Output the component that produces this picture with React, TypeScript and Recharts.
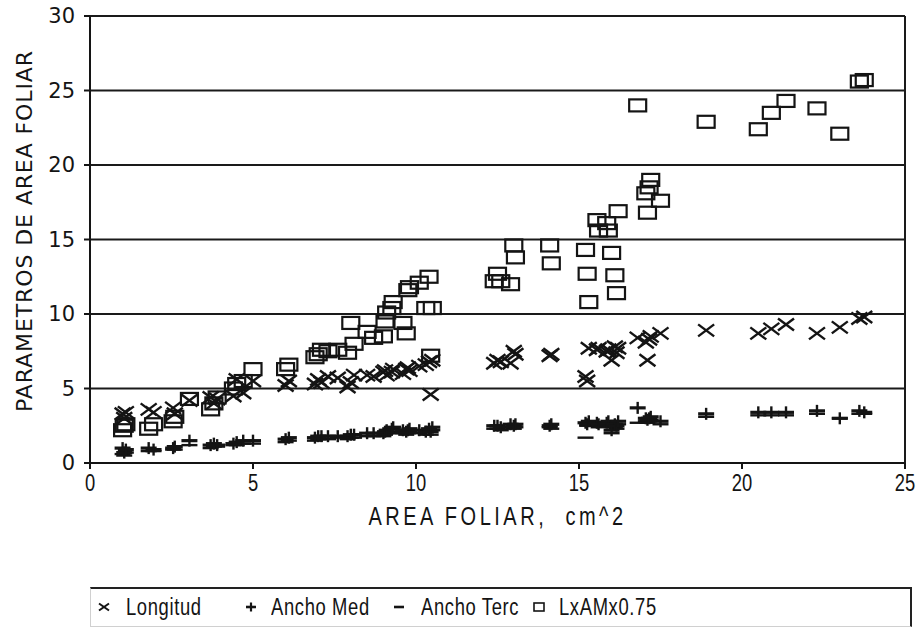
import React from "react";
import {
  ScatterChart,
  Scatter,
  XAxis,
  YAxis,
  CartesianGrid,
  ReferenceLine,
  Legend,
} from "recharts";

// Leaf area (x) shared by all series
const areaFoliar = [
  1.0, 1.05, 1.1, 1.8, 1.95, 2.55, 2.6, 3.05, 3.7, 3.8, 3.9, 4.4, 4.5, 4.7, 5.0,
  6.0, 6.1, 6.9, 7.0, 7.1, 7.3, 7.6, 7.9, 8.0, 8.1, 8.5, 8.7, 9.0, 9.05, 9.1,
  9.26, 9.3, 9.6, 9.7, 9.75, 9.8, 10.1, 10.3, 10.4, 10.45, 10.5, 12.4, 12.5,
  12.6, 12.9, 13.0, 13.05, 14.1, 14.15, 15.2, 15.25, 15.3, 15.55, 15.6, 15.85,
  15.9, 16.0, 16.1, 16.15, 16.2, 16.8, 17.05, 17.1, 17.15, 17.2, 17.5, 18.9,
  20.5, 20.9, 21.35, 22.3, 23.0, 23.6, 23.75,
];

const longitud = [
  3.3, 3.0, 3.4, 3.6, 3.4, 3.7, 3.3, 4.2, 4.4, 4.0, 4.3, 4.5, 5.6, 4.7, 5.5,
  5.2, 5.5, 5.3, 5.6, 5.4, 5.8, 5.7, 5.1, 5.4, 5.9, 5.9, 5.8, 6.1, 6.2, 5.9,
  6.1, 6.3, 6.0, 6.3, 6.4, 6.2, 6.5, 6.6, 6.8, 4.6, 6.9, 6.7, 6.9, 6.8, 6.7,
  7.5, 7.3, 7.2, 7.3, 5.8, 5.5, 7.7, 7.6, 7.7, 7.5, 7.6, 6.9, 7.8, 7.4, 7.7,
  8.4, 8.1, 6.9, 8.3, 8.5, 8.7, 8.9, 8.7, 9.0, 9.3, 8.7, 9.1, 9.7, 9.8,
];

const anchoMed = [
  1.0, 0.7, 0.9, 1.0, 0.9, 1.0, 1.1, 1.5, 1.2, 1.3, 1.2, 1.3, 1.4, 1.5, 1.5,
  1.6, 1.7, 1.7, 1.8, 1.8, 1.8, 1.8, 1.8, 1.9, 1.9, 2.0, 2.0, 2.0, 2.1, 2.2,
  2.3, 2.4, 2.2, 2.1, 2.2, 2.3, 2.2, 2.1, 2.3, 2.1, 2.4, 2.5, 2.5, 2.4, 2.6,
  2.5, 2.6, 2.5, 2.6, 2.7, 2.6, 2.8, 2.7, 2.6, 2.7, 2.8, 2.2, 2.6, 2.5, 2.8,
  3.7, 3.0, 2.9, 3.0, 3.1, 2.8, 3.3, 3.4, 3.4, 3.4, 3.5, 3.0, 3.5, 3.4,
];

const anchoTerc = [
  0.6, 0.5, 0.7, 0.8, 0.8, 0.9, 0.9, 1.2, 1.0, 1.1, 1.1, 1.2, 1.2, 1.3, 1.3,
  1.4, 1.5, 1.5, 1.6, 1.6, 1.6, 1.7, 1.6, 1.7, 1.7, 1.8, 1.8, 1.8, 1.9, 2.0,
  2.0, 2.1, 2.0, 1.9, 2.0, 2.1, 2.0, 1.9, 2.1, 1.9, 2.2, 2.3, 2.3, 2.2, 2.4,
  2.3, 2.4, 2.4, 2.3, 1.7, 2.5, 2.6, 2.5, 2.4, 2.5, 2.6, 2.0, 2.4, 2.3, 2.6,
  2.7, 2.8, 2.7, 2.8, 2.9, 2.6, 3.1, 3.2, 3.2, 3.2, 3.3, 3.0, 3.3, 3.3,
];

const lxam = [
  2.2, 2.5, 2.6, 2.3, 2.6, 2.8, 3.1, 4.3, 3.6, 4.0, 4.4, 5.0, 5.3, 5.5, 6.3,
  6.3, 6.6, 7.1, 7.3, 7.6, 7.5, 7.6, 7.4, 9.4, 8.0, 8.8, 8.4, 8.5, 9.5, 10.1,
  10.4, 10.8, 9.4, 8.7, 11.6, 11.8, 12.1, 10.4, 12.5, 7.2, 10.4, 12.2, 12.7,
  12.2, 12.0, 14.6, 13.8, 14.6, 13.4, 14.3, 12.7, 10.8, 16.3, 15.6, 16.1, 15.6,
  14.1, 12.6, 11.4, 16.9, 24.0, 18.1, 16.8, 18.5, 19.0, 17.6, 22.9, 22.4, 23.5,
  24.3, 23.8, 22.1, 25.6, 25.7,
];

const seriesNames = ["Longitud", "Ancho Med", "Ancho Terc", "LxAMx0.75"];
const xTicks = [0, 5, 10, 15, 20, 25];
const yTicks = [0, 5, 10, 15, 20, 25, 30];

const build = (ys: number[]) => areaFoliar.map((x, i) => ({ x, y: ys[i] }));

const INK = "#141414";
const SANS = "'Liberation Sans', Arial, sans-serif";
const WIDE = "'DejaVu Sans', Verdana, sans-serif";
const SQUEEZE = 0.8;

const XMark = (p: any) => {
  const { cx, cy } = p;
  if (cx == null || cy == null) return null;
  return (
    <g>
      <line x1={cx - 8} y1={cy - 6} x2={cx + 8} y2={cy + 6} stroke={INK} strokeWidth={2.4} />
      <line x1={cx - 8} y1={cy + 6} x2={cx + 8} y2={cy - 6} stroke={INK} strokeWidth={2.4} />
    </g>
  );
};

const PlusMark = (p: any) => {
  const { cx, cy } = p;
  if (cx == null || cy == null) return null;
  return (
    <g>
      <line x1={cx - 8} y1={cy} x2={cx + 8} y2={cy} stroke={INK} strokeWidth={3.2} />
      <line x1={cx} y1={cy - 6} x2={cx} y2={cy + 6} stroke={INK} strokeWidth={2.4} />
    </g>
  );
};

const DashMark = (p: any) => {
  const { cx, cy } = p;
  if (cx == null || cy == null) return null;
  return <line x1={cx - 8} y1={cy} x2={cx + 8} y2={cy} stroke={INK} strokeWidth={2.4} />;
};

const SquareMark = (p: any) => {
  const { cx, cy } = p;
  if (cx == null || cy == null) return null;
  return (
    <rect x={cx - 8.5} y={cy - 6} width={17} height={12} fill="none" stroke={INK} strokeWidth={2.2} />
  );
};

const LegendIcon = ({ kind }: { kind: number }) => {
  const c = 8;
  return (
    <svg width={16} height={16} style={{ display: "block" }}>
      {kind === 0 && (
        <g>
          <line x1={3} y1={4.5} x2={13} y2={11.5} stroke={INK} strokeWidth={2} />
          <line x1={3} y1={11.5} x2={13} y2={4.5} stroke={INK} strokeWidth={2} />
        </g>
      )}
      {kind === 1 && (
        <g>
          <line x1={3} y1={c} x2={13} y2={c} stroke={INK} strokeWidth={2.6} />
          <line x1={c} y1={3.5} x2={c} y2={12.5} stroke={INK} strokeWidth={2.2} />
        </g>
      )}
      {kind === 2 && <line x1={3} y1={c} x2={13} y2={c} stroke={INK} strokeWidth={2.6} />}
      {kind === 3 && <rect x={3} y={4} width={10} height={8} fill="none" stroke={INK} strokeWidth={1.6} />}
    </svg>
  );
};

const iconLeft = [5, 152, 300, 440];
const textLeft = [35, 180, 330, 468];

const LegendBox = () => (
  <div
    style={{
      position: "relative",
      width: 822,
      height: 40,
      boxSizing: "border-box",
      borderTop: "2px solid #222",
      borderRight: "2px solid #222",
      borderBottom: "1px solid #d0d0d0",
      borderLeft: "1px solid #d0d0d0",
      fontFamily: SANS,
      fontSize: 23,
      color: INK,
    }}
  >
    {seriesNames.map((n, i) => (
      <React.Fragment key={n}>
        <div style={{ position: "absolute", left: iconLeft[i], top: 10 }}>
          <LegendIcon kind={i} />
        </div>
        <div
          style={{
            position: "absolute",
            left: textLeft[i],
            top: 5,
            letterSpacing: 0.8,
            whiteSpace: "nowrap",
            transform: `scaleX(${SQUEEZE})`,
            transformOrigin: "0 0",
          }}
        >
          {n}
        </div>
      </React.Fragment>
    ))}
  </div>
);

const XTick = (props: any) => {
  const { x, y, payload } = props;
  return (
    <text
      transform={`translate(${x}, ${y + 19}) scale(${SQUEEZE}, 1)`}
      textAnchor="middle"
      fontFamily={SANS}
      fontSize={23}
      fill={INK}
    >
      {payload.value}
    </text>
  );
};

const YLabel = () => {
  const cy = 231;
  return (
    <text
      x={24}
      y={cy}
      transform={`rotate(-90, 24, ${cy})`}
      textAnchor="middle"
      dominantBaseline="central"
      fontFamily={WIDE}
      fontSize={22}
      letterSpacing={0.9}
      fill={INK}
    >
      PARAMETROS DE AREA FOLIAR
    </text>
  );
};

const XLabel = (props: any) => {
  const vb = props.viewBox || {};
  const cx = (vb.x ?? 90) + (vb.width ?? 815) / 2;
  return (
    <text
      transform={`translate(${cx}, 525) scale(${SQUEEZE}, 1)`}
      textAnchor="middle"
      fontFamily={SANS}
      fontSize={25}
      letterSpacing={4.4}
      fill={INK}
      style={{ whiteSpace: "pre" }}
    >
      {"AREA FOLIAR,  cm^2"}
    </text>
  );
};

export default function App() {
  return (
    <div style={{ position: "absolute", left: 0, top: 0, width: 919, height: 635, background: "#fff" }}>
      <ScatterChart width={919} height={635} margin={{ top: 16, right: 14, bottom: 8, left: 30 }}>
        <CartesianGrid horizontal vertical={false} stroke="#1a1a1a" strokeWidth={2} />
        <XAxis
          type="number"
          dataKey="x"
          domain={[0, 25]}
          ticks={xTicks}
          height={124}
          tickSize={6}
          tickMargin={3}
          stroke={INK}
          strokeWidth={2}
          tick={<XTick />}
          label={<XLabel />}
          allowDataOverflow
        />
        <YAxis
          type="number"
          dataKey="y"
          domain={[0, 30]}
          ticks={yTicks}
          width={60}
          tickSize={6}
          tickMargin={9}
          stroke={INK}
          strokeWidth={2}
          tick={{ fill: INK, fontFamily: WIDE, fontSize: 21 }}
          label={<YLabel />}
          allowDataOverflow
        />
        <ReferenceLine x={25} stroke="#1a1a1a" strokeWidth={2} />
        <Legend
          verticalAlign="bottom"
          height={40}
          content={() => <LegendBox />}
          wrapperStyle={{ left: 90, width: 822, bottom: 8, height: 40 }}
        />
        <Scatter name={seriesNames[3]} data={build(lxam)} shape={SquareMark} isAnimationActive={false} />
        <Scatter name={seriesNames[0]} data={build(longitud)} shape={XMark} isAnimationActive={false} />
        <Scatter name={seriesNames[2]} data={build(anchoTerc)} shape={DashMark} isAnimationActive={false} />
        <Scatter name={seriesNames[1]} data={build(anchoMed)} shape={PlusMark} isAnimationActive={false} />
      </ScatterChart>
    </div>
  );
}
